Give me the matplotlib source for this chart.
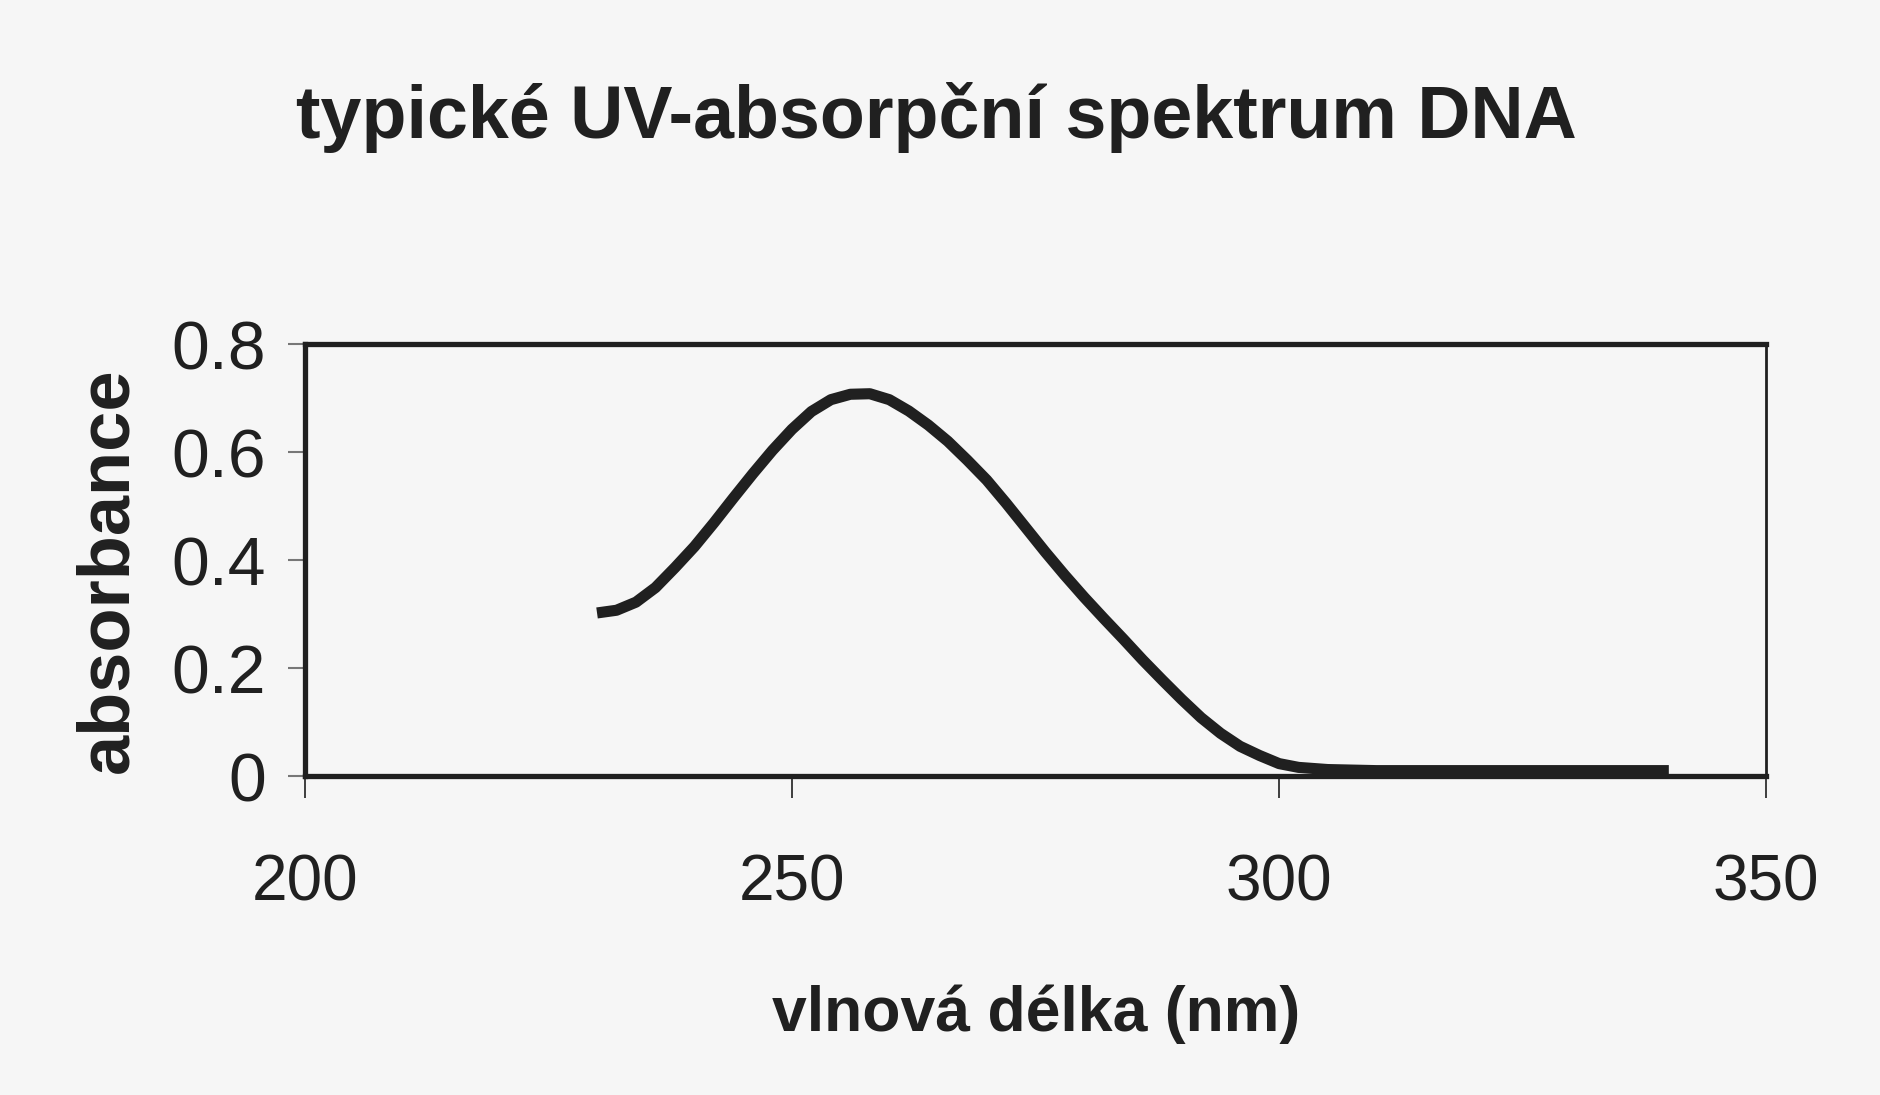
import matplotlib
matplotlib.use("Agg")
import matplotlib.pyplot as plt

# typical UV absorption spectrum of DNA
wavelength = [230, 232, 234, 236, 238, 240, 242, 244, 246, 248, 250, 252, 254, 256,
              258, 260, 262, 264, 266, 268, 270, 272, 274, 276, 278, 280, 282, 284,
              286, 288, 290, 292, 294, 296, 298, 300, 302, 305, 310, 320, 330, 340]
absorbance = [0.302, 0.307, 0.322, 0.349, 0.386, 0.425, 0.469, 0.515, 0.560, 0.603,
              0.642, 0.675, 0.697, 0.707, 0.708, 0.697, 0.676, 0.650, 0.620, 0.585,
              0.548, 0.505, 0.460, 0.415, 0.372, 0.331, 0.292, 0.254, 0.215, 0.178,
              0.142, 0.108, 0.079, 0.055, 0.038, 0.023, 0.016, 0.012, 0.010, 0.010,
              0.010, 0.010]
xticks = [200, 250, 300, 350]
yticks = [0, 0.2, 0.4, 0.6, 0.8]
ytick_labels = ["0", "0.2", "0.4", "0.6", "0.8"]

plt.rcParams['font.family'] = ['Liberation Sans', 'DejaVu Sans']
bg = "#f6f6f6"
ink = "#202020"

fig = plt.figure(figsize=(18.81, 10.95), dpi=100, facecolor=bg)
ax = fig.add_axes([0.162, 0.2913, 0.777, 0.3945], facecolor=bg)

ax.plot(wavelength, absorbance, color=ink, lw=8, solid_capstyle='butt',
        solid_joinstyle='round')

ax.set_xlim(200, 350)
ax.set_ylim(0, 0.8)
ax.set_xticks(xticks)
ax.set_xticklabels([str(t) for t in xticks])
ax.set_yticks(yticks)
ax.set_yticklabels(ytick_labels)

ax.tick_params(axis='x', direction='out', length=16, width=1.2, color=ink,
               labelsize=46, pad=40, labelcolor=ink)
ax.tick_params(axis='y', direction='out', length=12, width=1.5, color="#777777",
               labelsize=49, pad=16, labelcolor=ink)

for side in ['left', 'top', 'bottom']:
    ax.spines[side].set_linewidth(3.8)
    ax.spines[side].set_color(ink)
ax.spines['right'].set_linewidth(2)
ax.spines['right'].set_color(ink)

fig.text(0.498, 0.874, "typické UV-absorpční spektrum DNA", ha='center',
         va='baseline', fontsize=53, fontweight='bold', color=ink)
fig.text(0.0574, 0.4795, "absorbance", rotation=90, ha='center', va='center',
         fontsize=52, fontweight='bold', color=ink)
fig.text(0.551, 0.074, "vlnová délka (nm)", ha='center', va='center',
         fontsize=45, fontweight='bold', color=ink)

fig.savefig("out.png", dpi=100, facecolor=bg)
